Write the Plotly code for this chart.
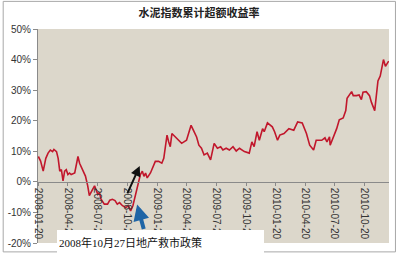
import plotly.graph_objects as go

title_text = "水泥指数累计超额收益率"
note_text = "2008年10月27日地产救市政策"

dates = [
    "2008-01-20", "2008-01-27", "2008-02-04", "2008-02-12", "2008-02-19", "2008-02-26",
    "2008-03-04", "2008-03-08", "2008-03-16", "2008-03-21", "2008-03-26", "2008-03-31",
    "2008-04-05", "2008-04-10", "2008-04-15", "2008-04-20", "2008-04-25", "2008-04-30",
    "2008-05-11", "2008-05-21", "2008-05-26", "2008-06-05", "2008-06-13", "2008-06-20",
    "2008-06-25", "2008-07-03", "2008-07-11", "2008-07-21", "2008-07-26", "2008-07-31",
    "2008-08-10", "2008-08-20", "2008-08-27", "2008-09-04", "2008-09-12", "2008-09-19",
    "2008-09-26", "2008-10-05", "2008-10-15", "2008-10-23", "2008-10-30", "2008-11-06",
    "2008-11-14", "2008-11-22", "2008-11-29", "2008-12-05", "2008-12-10", "2008-12-15",
    "2008-12-20", "2008-12-30", "2009-01-14", "2009-01-24", "2009-02-03", "2009-02-09",
    "2009-02-19", "2009-02-24", "2009-03-01", "2009-03-06", "2009-03-21", "2009-04-05",
    "2009-04-20", "2009-05-04", "2009-05-11", "2009-05-21", "2009-05-28", "2009-06-05",
    "2009-06-13", "2009-06-23", "2009-07-03", "2009-07-14", "2009-07-24", "2009-08-03",
    "2009-08-10", "2009-08-20", "2009-08-30", "2009-09-10", "2009-09-20", "2009-09-30",
    "2009-10-15", "2009-10-30", "2009-11-07", "2009-11-14", "2009-11-23", "2009-11-30",
    "2009-12-10", "2009-12-15", "2009-12-25", "2010-01-09", "2010-01-16", "2010-01-25",
    "2010-02-01", "2010-02-14", "2010-03-01", "2010-03-16", "2010-03-28", "2010-04-11",
    "2010-04-24", "2010-05-04", "2010-05-16", "2010-05-24", "2010-06-10", "2010-06-20",
    "2010-06-26", "2010-07-04", "2010-07-06", "2010-07-16", "2010-07-26", "2010-08-03",
    "2010-08-15", "2010-08-23", "2010-08-27", "2010-09-10", "2010-09-15", "2010-09-25",
    "2010-10-03", "2010-10-10", "2010-10-15", "2010-10-25", "2010-11-04", "2010-11-10",
    "2010-11-20", "2010-11-30", "2010-12-07", "2010-12-17", "2010-12-23", "2011-01-02",
]

excess_return = [
    8.3, 6.8, 3.5, 7.7, 9.4, 10.4,
    9.9, 10.6, 9.9, 7.7, 3.5, 4.0,
    0.3, 3.5, 4.0, 2.4, 2.9, 2.4,
    2.9, 8.3, 6.1, 4.0, 1.9, -1.3,
    -4.5, -2.9, -1.3, -4.1, -3.5, -5.7,
    -7.3, -7.3, -6.0, -5.7, -6.1, -7.3,
    -6.8, -7.8, -8.4, -7.8, -9.5, -7.8,
    -4.1, -0.3, 2.4, 3.5, 1.8, 2.9,
    1.3, 2.9, 6.7, 6.7, 6.1, 7.7,
    15.3, 13.1, 11.5, 15.8, 14.2, 12.6,
    13.6, 18.5, 16.9, 14.7, 12.0, 11.0,
    8.8, 9.4, 7.2, 12.6, 11.0, 11.5,
    10.4, 11.0, 10.4, 11.5, 10.1, 11.0,
    9.9, 9.4, 13.1, 11.5, 16.4, 13.6,
    17.4, 16.4, 19.3, 18.0, 16.4, 13.6,
    15.3, 15.8, 17.4, 16.9, 19.6, 19.3,
    15.8, 12.0, 10.4, 13.6, 13.6, 14.4,
    13.1, 14.7, 12.0, 14.4, 17.4, 20.3,
    20.9, 23.3, 27.3, 29.5, 28.2, 28.2,
    28.4, 26.9, 29.3, 29.5, 28.2, 26.0,
    23.3, 33.0, 34.6, 40.0, 37.8, 39.5,
]

x_tick_vals = [
    "2008-01-20", "2008-04-20", "2008-07-20", "2008-10-20",
    "2009-01-20", "2009-04-20", "2009-07-20", "2009-10-20",
    "2010-01-20", "2010-04-20", "2010-07-20", "2010-10-20",
]
x_tick_text = list(x_tick_vals)

y_tick_vals = [-20, -10, 0, 10, 20, 30, 40, 50]
y_tick_text = ["-20%", "-10%", "0%", "10%", "20%", "30%", "40%", "50%"]

# arrow annotations (head point in data, tail offset in pixels)
black_arrow = {"x": "2008-11-27", "y": 5.2, "ax": -13, "ay": 29}
blue_arrow = {"x": "2008-11-19", "y": -7.4, "ax": 7, "ay": 26}

W, H = 397, 257
L, R, T, B = 36, 8, 29, 11
pw, ph = W - L - R, H - T - B

fig = go.Figure()
fig.add_trace(go.Scatter(
    x=dates, y=excess_return, mode="lines",
    line=dict(color="#c1172c", width=1.6),
    showlegend=False, hoverinfo="skip",
))

ymin, ymax = -20, 50

fig.update_layout(
    width=W, height=H,
    margin=dict(l=L, r=R, t=T, b=B, pad=0),
    paper_bgcolor="white",
    plot_bgcolor="#dcd7cb",
    showlegend=False,
    title=dict(
        text="<b>" + title_text + "</b>",
        x=(198 - L) / pw, xref="paper", xanchor="center",
        y=1 - 13 / H, yanchor="middle",
        font=dict(family="Noto Sans CJK SC", size=11, color="#222222"),
    ),
    xaxis=dict(
        type="date",
        range=["2008-01-19", "2011-01-03"],
        anchor="free",
        position=(0 - ymin) / (ymax - ymin),
        showgrid=False, zeroline=False,
        showline=True, linecolor="#8a8a8a", linewidth=1,
        ticks="outside", ticklen=3, tickcolor="#8a8a8a",
        tickvals=x_tick_vals, ticktext=x_tick_text,
        tickangle=90,
        tickfont=dict(family="Liberation Sans", size=10, color="#333333"),
    ),
    yaxis=dict(
        range=[ymin, ymax],
        showgrid=False, zeroline=False,
        showline=True, linecolor="#8a8a8a", linewidth=1,
        ticks="outside", ticklen=4, tickcolor="#8a8a8a",
        tickvals=y_tick_vals, ticktext=y_tick_text,
        tickfont=dict(family="Liberation Sans", size=10, color="#333333"),
    ),
)

# outer gray frame
fig.add_shape(
    type="rect", xref="paper", yref="paper",
    x0=(1 - L) / pw, x1=(395.5 - L) / pw,
    y0=(T + ph - 255) / ph, y1=(T + ph - 1) / ph,
    line=dict(color="#a8a8a8", width=1), fillcolor="rgba(0,0,0,0)",
    layer="above",
)

# arrows
fig.add_annotation(
    x=black_arrow["x"], y=black_arrow["y"], ax=black_arrow["ax"], ay=black_arrow["ay"],
    xref="x", yref="y", showarrow=True, arrowhead=2, arrowsize=1,
    arrowwidth=2, arrowcolor="#111111", text="",
)
fig.add_annotation(
    x=blue_arrow["x"], y=blue_arrow["y"], ax=blue_arrow["ax"], ay=blue_arrow["ay"],
    xref="x", yref="y", showarrow=True, arrowhead=2, arrowsize=0.8,
    arrowwidth=4, arrowcolor="#1f65a6", text="",
)

# text box
fig.add_annotation(
    text=note_text,
    xref="paper", yref="paper",
    x=(55 - L) / pw, y=(T + ph - 233) / ph,
    xanchor="left", yanchor="top",
    showarrow=False, align="left",
    width=203, height=20, borderpad=1,
    bgcolor="white", bordercolor="white",
    font=dict(family="Liberation Serif, Noto Sans CJK SC", size=11, color="#111111"),
)

fig.write_html("out.html")
